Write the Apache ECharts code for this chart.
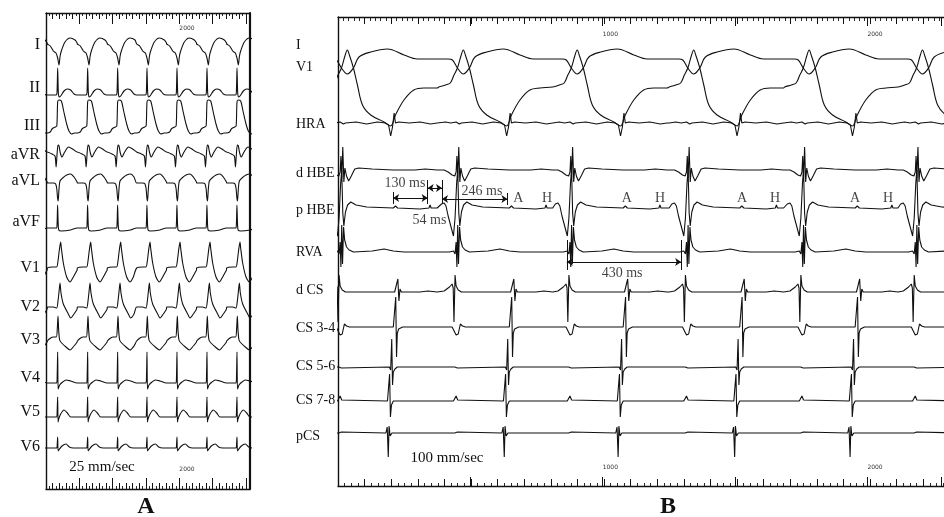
<!DOCTYPE html>
<html>
<head>
<meta charset="utf-8">
<title>12-lead ECG and intracardiac recording</title>
<script src="https://cdn.jsdelivr.net/npm/echarts@6/dist/echarts.min.js"></script>
<style>
html, body { margin: 0; padding: 0; background: #fff; }
#chart { width: 944px; height: 517px; }
</style>
</head>
<body>
<div id="chart"></div>
<script>
var black = '#111';
var serif = '"Liberation Serif", "DejaVu Serif", serif';

/*
 Panel A - surface 12 lead, 25 mm/sec ==========================================
 template points: [ms from QRS, amplitude]
 * */
var leadsA = ['I', 'II', 'III', 'aVR', 'aVL', 'aVF', 'V1', 'V2', 'V3', 'V4', 'V5', 'V6'];
var beatsA = [-280, 170, 620, 1070, 1510, 1960, 2410, 2860, 3310];
var aI = [[-150, 6], [-105, 4], [-60, -1], [-20, -3], [5, -8], [25, -15], [42, -6], [65, 0], [115, 8], [190, 12], [265, 10], [297, 7]];
var aII = [[-150, 0], [-20, 0], [-5, 2], [5, 27], [14, 4], [25, -2], [50, -1], [100, 4], [150, 6], [200, 5], [250, 1], [297, 0]];
var aIII = [[-150, -6], [-107, -5], [-80, -2], [-30, 0], [-8, 1], [5, 25], [20, 27], [60, 26], [95, 16], [140, 3], [175, -4], [215, -7], [260, -6], [297, -6]];
var aVR = [[-150, 3], [-80, 1], [-35, -1], [-18, -12], [-5, 0], [10, 10], [25, 9], [45, 2], [70, -2], [110, 3], [170, 8], [230, 6], [297, 3]];
var aVL = [[-150, 0], [-60, 0], [-25, -1], [-8, -6], [3, -15], [12, -18], [25, -6], [40, 2], [80, 5], [140, 8], [200, 9], [250, 6], [297, 1]];
var aVF = [[-150, 0], [-15, 0], [-4, 4], [4, 23], [12, 6], [22, -2], [60, -3], [200, -2], [297, 0]];
var aV1 = [[-150, 2], [-60, 3], [-10, 3], [10, 9], [30, 20], [50, 28], [60, 22], [90, 7], [140, -7], [190, -12], [240, -7], [290, -1], [297, 0]];
var aV2 = [[-150, 3], [-60, 3], [-10, 2], [10, 9], [25, 18], [40, 27], [55, 17], [90, 6], [165, -4], [200, -8], [250, -4], [290, 0], [297, 1]];
var aV3 = [[-150, -1], [-100, 2], [-60, 3], [-15, 3], [0, 12], [10, 24], [20, 10], [35, 0], [65, -3], [130, -7], [190, -10], [250, -6], [297, -2]];
var aV4 = [[-150, 0], [-10, 0], [-2, 8], [5, 31], [11, -6], [18, -5], [35, -2], [80, 1], [130, 3], [200, 2], [297, 0]];
var aV5 = [[-150, 1], [-10, 1], [-2, 8], [5, 21], [11, -4], [20, -1], [50, 4], [100, 8], [150, 5], [200, 1], [297, 1]];
var aV6 = [[-150, 2], [-10, 2], [-2, 5], [5, 13], [11, -1], [22, 0], [70, 4], [130, 6], [180, 3], [240, 2], [297, 2]];

/*
 Panel B - intracardiac, 100 mm/sec ============================================
 * */
var leadsB = ['I', 'V1', 'HRA', 'd HBE', 'p HBE', 'RVA', 'd CS', 'CS 3-4', 'CS 5-6', 'CS 7-8', 'pCS'];
var beatsB = [-425, 8, 444, 872, 1310, 1744, 2170, 2600];
var bI = [[-65, 1], [-30, 1], [-14, 0], [5, -8], [27, -14], [50, -8], [71, 3], [115, 8], [178, 11], [240, 5], [290, 1], [365, 1]];
var bV1 = [[-65, 1], [-40, 3], [-22, 5], [-8, 13], [5, 20], [18, 32], [27, 38], [36, 32], [50, 20], [65, 3], [84, -17], [115, -27], [165, -34], [190, -38], [208, -27], [240, -12], [277, -2], [315, 0], [365, 0]];
var bHRA = [[-65, 0], [-40, 1], [-20, 0], [0, 1], [6, 3], [12, -1], [20, 0], [60, 1], [100, -1], [140, 1], [170, 0], [182, -2], [190, -13], [197, -4], [203, 10], [208, 0], [220, 1], [260, 0], [300, 1], [340, -1], [365, 0]];
var bdHBE = [[-65, 0], [-45, 0], [-30, -2], [-15, -5], [-5, -6], [0, -2], [3, 14], [6, -8], [10, 23], [14, -12], [18, 2], [24, -6], [32, -11], [42, -6], [55, 1], [70, 2], [120, 1], [200, 0], [280, 0], [320, 1], [365, 0]];
var bpHBE = [[-65, 0], [-55, 4], [-45, 5], [-38, 2], [-30, -8], [-18, -20], [-10, -28], [-4, -10], [2, 25], [6, 38], [10, -5], [14, -18], [20, -4], [28, 3], [40, 6], [60, 3], [100, 1], [200, 0], [208, 2], [212, 4], [216, 0], [300, -1], [334, 0], [338, 3], [342, 0], [365, 0]];
var bRVA = [[-65, 0], [-25, 0], [-10, 1], [-4, -2], [0, 10], [3, -15], [6, 27], [9, -12], [13, 25], [17, 12], [24, 5], [34, 2], [50, 0], [120, 1], [165, 3], [200, 1], [240, 0], [365, 0]];
var bdCS = [[-65, 0], [-45, 1], [-25, 5], [-15, 8], [-11, 4], [-8, -30], [-4, 17], [0, 6], [8, 2], [20, 0], [205, 0], [212, 1], [217, 13], [221, -9], [225, 3], [230, 0], [300, 0], [330, 1], [365, 0]];
var bCS34 = [[-65, 0], [-15, 0], [-8, 2], [0, -8], [8, -7], [16, 3], [24, 1], [35, 0], [200, 0], [206, 2], [209, 30], [212, -30], [215, -6], [220, -2], [235, 0], [365, 0]];
var bCS56 = [[-65, 0], [-5, 0], [0, 2], [5, -1], [10, 0], [185, 0], [190, -3], [194, 28], [197, -18], [200, -5], [206, -2], [215, 0], [365, 0]];
var bCS78 = [[-65, 0], [-10, 0], [0, 5], [6, 1], [12, 0], [178, 0], [183, -2], [186, 27], [189, -16], [193, -4], [200, 0], [365, 0]];
var bpCS = [[-65, 0], [-5, 0], [0, -1], [5, 1], [10, 0], [172, 0], [177, 6], [181, -24], [184, 7], [188, -3], [195, 0], [365, 0]];

// intervals measured on p HBE (A-H, H-V, V-A) and on RVA (V-V)
var hbeIntervals = [130, 54, 246];
var hbeIntervalStart = 207;
var vvInterval = 430;
var vvStart = 860;
var aLabelTimes = [678, 1086, 1519, 1944];
var hLabelTimes = [786, 1211, 1643, 2068];
var rulerLabelsA = [2000];
var rulerLabelsB = [1000, 2000];

/* layout ------------------------------------------------------------------ */
var layA = { left: 46, width: 204, max: 3060, half: 45, smooth: 0.25, font: 16,
	base: [50, 95, 127, 155, 183, 228, 270, 310, 340, 383, 418, 450],
	labelX: 40, labelY: [45, 88, 126, 155, 181, 222, 268, 307, 340, 378, 412, 447] };
var layB = { left: 338, width: 606, max: 2278, half: 60, font: 14,
	smooth: [0.35, 0.35, 0, 0, 0, 0, 0, 0, 0, 0, 0],
	base: [60, 88, 123, 170, 208, 252, 292, 327, 367, 401, 433],
	labelX: 296, labelY: [45, 67, 124, 173, 210, 252, 290, 328, 366, 400, 436] };

var tplA = [aI, aII, aIII, aVR, aVL, aVF, aV1, aV2, aV3, aV4, aV5, aV6];
var tplB = [bI, bV1, bHRA, bdHBE, bpHBE, bRVA, bdCS, bCS34, bCS56, bCS78, bpCS];

// repeat a beat template at every beat time
function buildTrace(tpl, beats) {
	var pts = [];
	for(var i = 0; i < beats.length; i++) {
		var next = i + 1 < beats.length ? beats[i + 1] + tpl[0][0] : Infinity;
		for(var j = 0; j < tpl.length; j++) {
			var t = beats[i] + tpl[j][0];
			if(t >= next) break;
			if(pts.length && t <= pts[pts.length - 1][0]) continue;
			pts.push([t, tpl[j][1]]);
		}
	}
	return pts;
}

var grids = [], xAxes = [], yAxes = [], series = [], graphics = [];

function addTrace(lay, k, data, smooth) {
	var idx = grids.length;
	grids.push({ left: lay.left, width: lay.width, top: lay.base[k] - lay.half, height: 2 * lay.half });
	xAxes.push({ type: 'value', gridIndex: idx, min: 0, max: lay.max, show: false });
	yAxes.push({ type: 'value', gridIndex: idx, min: -lay.half, max: lay.half, show: false });
	var s = {
		type: 'line', xAxisIndex: idx, yAxisIndex: idx, data: data,
		showSymbol: false, smooth: smooth, silent: true, animation: false,
		lineStyle: { color: black, width: 1.1 }
	};
	series.push(s);
	return s;
}

// ruler / frame: a grid whose only visible parts are the axes
function addRuler(rect, o) {
	var idx = grids.length;
	grids.push(rect);
	xAxes.push({
		type: 'value', gridIndex: idx, min: 0, max: o.max, interval: o.interval,
		position: o.pos,
		axisLine: { show: !!o.line, onZero: false, lineStyle: { color: black, width: 1.4 } },
		axisTick: { show: true, inside: true, length: o.len, lineStyle: { color: black, width: 1 } },
		minorTick: { show: !!o.minor, splitNumber: o.minor || 5, length: o.minorLen || 3, lineStyle: { color: black, width: 0.9 } },
		axisLabel: {
			show: !!o.labels, inside: true, margin: o.margin || 0, fontSize: 6, color: '#333',
			align: 'left', fontFamily: 'DejaVu Sans',
			formatter: function(v) { return o.labels && o.labels.indexOf(v) >= 0 ? String(v) : ''; }
		},
		splitLine: { show: false }
	});
	yAxes.push({
		type: 'value', gridIndex: idx, min: 0, max: 1, show: !!o.border, position: o.border || 'left',
		axisLine: { show: true, onZero: false, lineStyle: { color: black, width: o.borderWidth || 1.4 } },
		axisTick: { show: false }, axisLabel: { show: false }, splitLine: { show: false }
	});
}

function textStyle(text, size, align, weight) {
	return { text: text, font: (weight || '') + ' ' + size + 'px ' + serif, fill: black,
		textAlign: align, textVerticalAlign: 'middle', align: align, verticalAlign: 'middle' };
}

/* panel A */
var rectA = { left: layA.left, width: layA.width, top: 13, height: 476 };
addRuler(rectA, { max: layA.max, interval: 100, pos: 'top', line: true, len: 6, minor: 2, minorLen: 3, border: 'left' });
addRuler(rectA, { max: layA.max, interval: 100, pos: 'bottom', line: true, len: 6, minor: 2, minorLen: 3, border: 'right', borderWidth: 2.2 });
addRuler(rectA, { max: layA.max, interval: 500, pos: 'top', len: 11, labels: rulerLabelsA, margin: 12 });
addRuler(rectA, { max: layA.max, interval: 500, pos: 'bottom', len: 11, labels: rulerLabelsA, margin: 17 });
for(var i = 0; i < leadsA.length; i++) {
	addTrace(layA, i, buildTrace(tplA[i], beatsA), layA.smooth);
	graphics.push({ type: 'text', x: layA.labelX, y: layA.labelY[i], style: textStyle(leadsA[i], layA.font, 'right') });
}

/* panel B */
var rectB = { left: layB.left, width: layB.width, top: 17, height: 469 };
addRuler(rectB, { max: layB.max, interval: 100, pos: 'top', line: true, len: 7, minor: 5, minorLen: 4, border: 'left' });
addRuler(rectB, { max: layB.max, interval: 100, pos: 'bottom', line: true, len: 7, minor: 4, minorLen: 3 });
addRuler(rectB, { max: layB.max, interval: 500, pos: 'top', len: 9, labels: rulerLabelsB, margin: 14 });
addRuler(rectB, { max: layB.max, interval: 500, pos: 'bottom', len: 9, labels: rulerLabelsB, margin: 16 });
var traceB = [];
for(var k = 0; k < leadsB.length; k++) {
	traceB.push(addTrace(layB, k, buildTrace(tplB[k], beatsB), layB.smooth[k]));
	graphics.push({ type: 'text', x: layB.labelX, y: layB.labelY[k], style: textStyle(leadsB[k], layB.font, 'left') });
}

/* annotations on p HBE and RVA */
function bar(t, v1, v2) {
	return [{ coord: [t, v1], symbol: 'none' }, { coord: [t, v2], symbol: 'none' }];
}
function arrow(t1, t2, v) {
	return [{ coord: [t1, v] }, { coord: [t2, v] }];
}
var tA = hbeIntervalStart, tH = tA + hbeIntervals[0], tV = tH + hbeIntervals[1], tA2 = tV + hbeIntervals[2];
var markStyle = {
	silent: true, animation: false, symbol: ['arrow', 'arrow'], symbolSize: 6,
	lineStyle: { color: black, width: 1, type: 'solid' }, label: { show: false }
};
var hbeIdx = 4, rvaIdx = 5;
traceB[hbeIdx].markLine = Object.assign({}, markStyle, { data: [
	arrow(tA, tH, 10), bar(tA, 16, 4), bar(tH, 28, 4),
	arrow(tH, tV, 20), bar(tV, 28, 4),
	arrow(tV, tA2, 9), bar(tA2, 15, 3)
] });
traceB[rvaIdx].markLine = Object.assign({}, markStyle, { data: [
	arrow(vvStart, vvStart + vvInterval, -10), bar(vvStart, 12, -18), bar(vvStart + vvInterval, 12, -18)
] });

function textSeries(idx, items, size) {
	series.push({
		type: 'scatter', xAxisIndex: idx, yAxisIndex: idx, symbolSize: 0, silent: true, animation: false,
		data: items,
		label: { show: true, position: 'inside', formatter: '{b}', color: black, fontSize: size, fontFamily: serif }
	});
}
var gHBE = grids.length - leadsB.length + hbeIdx, gRVA = grids.length - leadsB.length + rvaIdx;
var hbeTexts = [
	{ name: hbeIntervals[0] + ' ms', value: [(tA + tH) / 2 - 20, 25] },
	{ name: hbeIntervals[1] + ' ms', value: [(tH + tV) / 2 - 20, -12] },
	{ name: hbeIntervals[2] + ' ms', value: [(tV + tA2) / 2 + 27, 17] }
];
for(var a = 0; a < aLabelTimes.length; a++) {
	hbeTexts.push({ name: 'A', value: [aLabelTimes[a], 10] });
	hbeTexts.push({ name: 'H', value: [hLabelTimes[a], 10] });
}
textSeries(gHBE, hbeTexts, 14);
textSeries(gRVA, [{ name: vvInterval + ' ms', value: [vvStart + vvInterval / 2 - 7, -21] }], 14);

/* captions */
graphics.push({ type: 'text', x: 102, y: 467, style: textStyle('25 mm/sec', 15, 'center') });
graphics.push({ type: 'text', x: 447, y: 458, style: textStyle('100 mm/sec', 15, 'center') });
graphics.push({ type: 'text', x: 146, y: 507, style: textStyle('A', 24, 'center', 'bold') });
graphics.push({ type: 'text', x: 668, y: 507, style: textStyle('B', 24, 'center', 'bold') });

var chart = echarts.init(document.getElementById('chart'), null, { renderer: 'canvas' });
chart.setOption({
	backgroundColor: '#fff',
	animation: false,
	grid: grids,
	xAxis: xAxes,
	yAxis: yAxes,
	series: series,
	graphic: graphics
});
</script>
</body>
</html>
